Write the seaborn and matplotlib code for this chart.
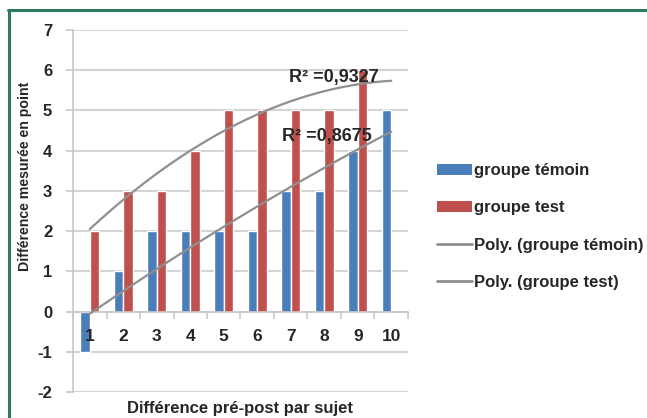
import numpy as np
import pandas as pd
import matplotlib
matplotlib.use("Agg")
import matplotlib.pyplot as plt
import seaborn as sns
from matplotlib.lines import Line2D
from matplotlib.patches import Patch

# ---- data ----
subjects = ["1", "2", "3", "4", "5", "6", "7", "8", "9", "10"]
temoin = [-1, 1, 2, 2, 2, 2, 3, 3, 4, 5]
test = [2, 3, 3, 4, 5, 5, 5, 5, 6, np.nan]
yticks = [-2, -1, 0, 1, 2, 3, 4, 5, 6, 7]
r2_temoin = "R² =0,8675"
r2_test = "R² =0,9327"
label_temoin = "groupe témoin"
label_test = "groupe test"

BLUE = "#4a7ebb"
RED = "#c0504d"
GRAY = "#8f8f8f"
GREEN = "#2f7a5e"

sns.set_theme(style="white")
plt.rcParams["font.family"] = ["Liberation Sans", "DejaVu Sans"]
plt.rcParams["font.weight"] = "bold"
plt.rcParams["axes.unicode_minus"] = False

df = pd.DataFrame({
    "sujet": subjects * 2,
    "groupe": [label_temoin] * len(subjects) + [label_test] * len(subjects),
    "valeur": temoin + test,
})

fig = plt.figure(figsize=(6.47, 4.18), dpi=100)
W, H = 647, 418
ax = fig.add_axes([73 / W, 1 - 392 / H, (408 - 73) / W, (392 - 30) / H])

sns.barplot(data=df, x="sujet", y="valeur", hue="groupe", order=subjects,
            hue_order=[label_temoin, label_test],
            palette=[BLUE, RED], width=0.57, errorbar=None, ax=ax,
            legend=False, saturation=1)

# polynomial (order 2) trendlines
pos = np.arange(len(subjects))
xs = np.linspace(0, len(subjects) - 1, 200)
for vals in [np.array(temoin, float), np.array(test, float)]:
    m = ~np.isnan(vals)
    coef = np.polyfit(pos[m] + 1, vals[m], 2)
    ax.plot(xs, np.polyval(coef, xs + 1), color=GRAY, lw=1.6, zorder=3)

ax.set_ylim(-2, 7)
ax.set_xlim(-0.5, len(subjects) - 0.5)
ax.set_yticks(yticks)
ax.yaxis.grid(True, color="#d4d4d4", lw=1.5)
ax.set_axisbelow(True)
for s in ["top", "right"]:
    ax.spines[s].set_visible(False)
ax.spines["left"].set_color("#c8c8c8")
ax.spines["left"].set_linewidth(1.2)
ax.spines["bottom"].set_position(("data", 0))
ax.spines["bottom"].set_color("#c8c8c8")
ax.spines["bottom"].set_linewidth(1.2)

ax.set_xticks(pos)
ax.set_xticklabels([])
ax.set_xticks(np.arange(-0.5, len(subjects), 1), minor=True)
ax.tick_params(axis="x", which="major", length=0)
ax.tick_params(axis="x", which="minor", length=5, color="#c8c8c8", width=1.2,
               direction="out", bottom=True)
ax.tick_params(axis="y", length=5, color="#c8c8c8", width=1.2, left=True,
               direction="out", pad=10)
for lab in ax.get_yticklabels():
    lab.set_fontsize(12)
    lab.set_fontweight("bold")
ax.set_xlabel("")
ax.set_ylabel("")

# category labels drawn next to the horizontal axis (above the bars)
for p, s in zip(pos, subjects):
    ax.text(p, -0.62, s, fontsize=12.5, fontweight="bold", ha="center",
            va="center", zorder=6)

ax.text(5.95, 5.81, r2_test, fontsize=13, fontweight="bold", ha="left",
        va="center", zorder=5)
ax.text(5.75, 4.34, r2_temoin, fontsize=13, fontweight="bold", ha="left",
        va="center", zorder=5)

fig.text(240 / W, 1 - 408 / H, "Différence pré-post par sujet", fontsize=12,
         fontweight="bold", ha="center", va="center")
fig.text(25 / W, 1 - 176 / H, "Différence mesurée en point", fontsize=10.2,
         fontweight="bold", ha="center", va="center", rotation=90)

handles = [
    Patch(facecolor=BLUE, edgecolor="none"),
    Patch(facecolor=RED, edgecolor="none"),
    Line2D([], [], color=GRAY, lw=2),
    Line2D([], [], color=GRAY, lw=2),
]
labels = [label_temoin, label_test, "Poly. (groupe témoin)", "Poly. (groupe test)"]
leg = fig.legend(handles, labels, loc="center left",
                 bbox_to_anchor=(437 / W, 1 - 226.5 / H), frameon=False,
                 fontsize=12, handlelength=2.1, handleheight=0.6,
                 handletextpad=0.1, labelspacing=1.33, borderaxespad=0,
                 borderpad=0)
for t in leg.get_texts():
    t.set_fontweight("bold")

# green frame (left and top)
fig.add_artist(Line2D([9 / W, 9 / W], [0, 1 - 10 / H], color=GREEN, lw=2.2,
                      transform=fig.transFigure))
fig.add_artist(Line2D([8 / W, 1], [1 - 10 / H, 1 - 10 / H], color=GREEN, lw=2.2,
                      transform=fig.transFigure))

fig.savefig("out.png", dpi=100)
